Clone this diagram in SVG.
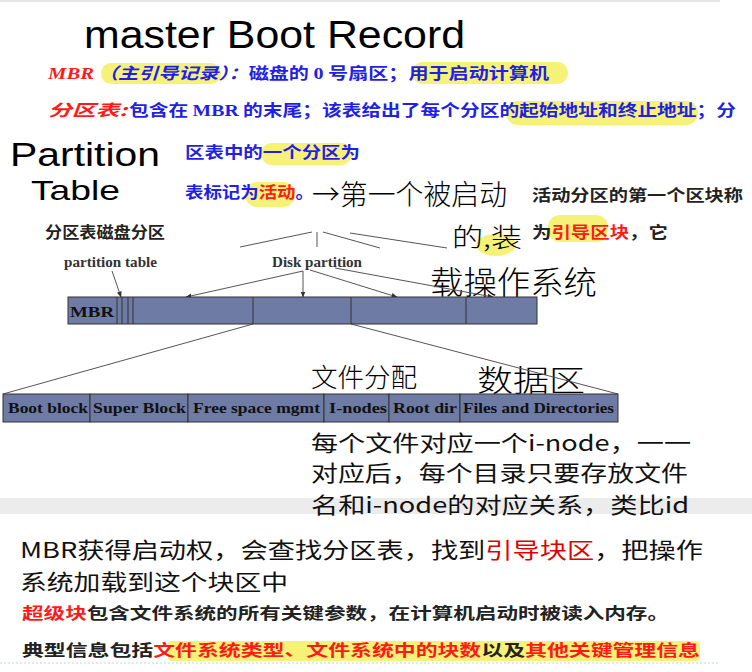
<svg xmlns="http://www.w3.org/2000/svg" width="752" height="672" viewBox="0 0 752 672">
<defs>
<style>
.cjkb{font-family:"Noto Sans CJK SC","Noto Sans",sans-serif;font-weight:bold;}
.cjk{font-family:"Noto Sans CJK SC","Noto Sans",sans-serif;font-weight:normal;}
.serif{font-family:"Liberation Serif",serif;font-weight:bold;}
.blue{fill:#1f1fe6;}
.red{fill:#ff1a1a;}
.dark{fill:#222;}
.hand{font-family:"Noto Sans CJK SC","Open Sans",sans-serif;font-weight:300;fill:#000;}
.handl{font-family:"Liberation Sans",sans-serif;font-weight:normal;fill:#000;}
.hl{fill:#f4f060;opacity:0.85;}
.cell{fill:#6e7ba4;stroke:#333;stroke-width:1;}
.lbl{font-family:"Liberation Serif",serif;font-weight:bold;font-size:15px;fill:#111;}
.con{stroke:#555;stroke-width:1;fill:none;}
.arr{stroke:#555;stroke-width:1;fill:none;marker-end:url(#ah);}
</style>
<marker id="ah" viewBox="0 0 10 10" refX="9" refY="5" markerWidth="6" markerHeight="6" orient="auto">
<path d="M0,1 L10,5 L0,9 z" fill="#333"/>
</marker>
</defs>
<rect width="752" height="672" fill="#fff"/>
<rect x="0" y="0" width="720" height="2" fill="#e6e6e6"/>
<rect x="0" y="498" width="752" height="16" fill="#ececec"/>

<g id="highlights">
<rect class="hl" x="101" y="63" width="120" height="21" rx="10"/>
<rect class="hl" x="412" y="62" width="156" height="22" rx="11"/>
<rect class="hl" x="506" y="101" width="192" height="24" rx="12"/>
<rect class="hl" x="261" y="143" width="91" height="22" rx="11"/>
<rect class="hl" x="245" y="182" width="50" height="25" rx="12"/>
<ellipse class="hl" cx="496" cy="245" rx="20" ry="11"/>
<rect class="hl" x="548" y="215" width="60" height="27" rx="12"/>
<rect class="hl" x="168" y="641" width="532" height="20" rx="4"/>
</g>

<g id="handwriting">
<text class="handl" x="84" y="48" font-size="38" textLength="381" lengthAdjust="spacingAndGlyphs">master Boot Record</text>
<text class="handl" x="10" y="166" font-size="34" textLength="150" lengthAdjust="spacingAndGlyphs">Partition</text>
<text class="handl" x="31" y="200" font-size="28" textLength="89" lengthAdjust="spacingAndGlyphs">Table</text>
<text class="hand" x="312" y="205" font-size="28" textLength="195" lengthAdjust="spacingAndGlyphs">→第一个被启动</text>
<text class="hand" x="452" y="247" font-size="26" textLength="70" lengthAdjust="spacingAndGlyphs">的,装</text>
<text class="hand" x="430" y="294" font-size="32" textLength="167" lengthAdjust="spacingAndGlyphs">载操作系统</text>
<text class="hand" x="311" y="387" font-size="26" textLength="106" lengthAdjust="spacingAndGlyphs">文件分配</text>
<text class="hand" x="477" y="391" font-size="30" textLength="108" lengthAdjust="spacingAndGlyphs">数据区</text>
</g>

<g id="intro-text">
<text class="serif red" x="48" y="79" font-size="17" font-style="italic" textLength="46" lengthAdjust="spacingAndGlyphs">MBR</text>
<text class="cjkb blue" x="98" y="79" font-size="16" textLength="451" lengthAdjust="spacingAndGlyphs"><tspan font-style="italic">（主引导记录）：</tspan>磁盘的 <tspan class="serif">0</tspan> 号扇区；用于启动计算机</text>
<text class="cjkb red" x="48" y="116" font-size="16" font-style="italic" textLength="79" lengthAdjust="spacingAndGlyphs">分区表:</text>
<text class="cjkb blue" x="129" y="116" font-size="16" textLength="607" lengthAdjust="spacingAndGlyphs">包含在 <tspan class="serif">MBR</tspan> 的末尾；该表给出了每个分区的起始地址和终止地址；分</text>
<text class="cjkb blue" x="185" y="158" font-size="16" textLength="175" lengthAdjust="spacingAndGlyphs">区表中的一个分区为</text>
<text class="cjkb blue" x="185" y="198" font-size="16" textLength="129" lengthAdjust="spacingAndGlyphs">表标记为<tspan class="red">活动</tspan>。</text>
<text class="cjkb dark" x="532" y="201" font-size="16" textLength="211" lengthAdjust="spacingAndGlyphs">活动分区的第一个区块称</text>
<text class="cjkb dark" x="532" y="238" font-size="16" textLength="136" lengthAdjust="spacingAndGlyphs">为<tspan class="red">引导区块</tspan>，它</text>
<text class="cjkb dark" x="45" y="238" font-size="16" textLength="120" lengthAdjust="spacingAndGlyphs">分区表磁盘分区</text>
</g>

<g id="connectors">
<line class="con" x1="312" y1="232" x2="240" y2="247"/>
<line class="con" x1="317" y1="232" x2="317" y2="247"/>
<line class="con" x1="323" y1="232" x2="380" y2="248"/>
<line class="con" x1="350" y1="233" x2="447" y2="248"/>
<line class="arr" x1="112" y1="271" x2="121" y2="297"/>
<line class="arr" x1="303" y1="271" x2="186" y2="297"/>
<line class="arr" x1="303" y1="271" x2="303" y2="297"/>
<line class="arr" x1="310" y1="270" x2="397" y2="297"/>
<line class="arr" x1="335" y1="268" x2="493" y2="297"/>
<line class="con" x1="253" y1="324" x2="3" y2="394"/>
<line class="con" x1="351" y1="324" x2="618" y2="394"/>
</g>

<g id="partition-labels">
<text class="serif" x="64" y="267" font-size="14" fill="#333" textLength="93" lengthAdjust="spacingAndGlyphs">partition table</text>
<text class="serif" x="272" y="267" font-size="14" fill="#333" textLength="90" lengthAdjust="spacingAndGlyphs">Disk partition</text>
</g>

<g id="disk-layout">
<rect class="cell" x="68" y="297" width="469" height="27"/>
<line x1="117" y1="297" x2="117" y2="324" stroke="#333"/>
<line x1="122" y1="297" x2="122" y2="324" stroke="#333"/>
<line x1="128" y1="297" x2="128" y2="324" stroke="#333"/>
<line x1="133" y1="297" x2="133" y2="324" stroke="#333"/>
<line x1="253" y1="297" x2="253" y2="324" stroke="#333"/>
<line x1="351" y1="297" x2="351" y2="324" stroke="#333"/>
<line x1="466" y1="297" x2="466" y2="324" stroke="#333"/>
<text class="lbl" x="70" y="317" font-size="16" textLength="44" lengthAdjust="spacingAndGlyphs">MBR</text>
</g>

<g id="fs-layout">
<rect class="cell" x="3" y="394" width="87" height="28"/>
<rect class="cell" x="90" y="394" width="98" height="28"/>
<rect class="cell" x="188" y="394" width="136" height="28"/>
<rect class="cell" x="324" y="394" width="65" height="28"/>
<rect class="cell" x="389" y="394" width="71" height="28"/>
<rect class="cell" x="460" y="394" width="158" height="28"/>
<text class="lbl" x="8" y="413" textLength="80" lengthAdjust="spacingAndGlyphs">Boot block</text>
<text class="lbl" x="93" y="413" textLength="93" lengthAdjust="spacingAndGlyphs">Super Block</text>
<text class="lbl" x="193" y="413" textLength="127" lengthAdjust="spacingAndGlyphs">Free space mgmt</text>
<text class="lbl" x="329" y="413" textLength="58" lengthAdjust="spacingAndGlyphs">I-nodes</text>
<text class="lbl" x="393" y="413" textLength="64" lengthAdjust="spacingAndGlyphs">Root dir</text>
<text class="lbl" x="463" y="413" textLength="151" lengthAdjust="spacingAndGlyphs">Files and Directories</text>
</g>

<g id="inode-note">
<text class="cjk" x="311" y="451" font-size="22" fill="#111" textLength="380" lengthAdjust="spacingAndGlyphs">每个文件对应一个i-node，一一</text>
<text class="cjk" x="311" y="481" font-size="22" fill="#111" textLength="377" lengthAdjust="spacingAndGlyphs">对应后，每个目录只要存放文件</text>
<text class="cjk" x="311" y="513" font-size="22" fill="#111" textLength="378" lengthAdjust="spacingAndGlyphs">名和i-node的对应关系，类比id</text>
</g>

<g id="bottom-notes">
<text class="cjk" x="20" y="558" font-size="22" fill="#111" textLength="683" lengthAdjust="spacingAndGlyphs">MBR获得启动权，会查找分区表，找到<tspan fill="#e00000">引导块区</tspan>，把操作</text>
<text class="cjk" x="20" y="590" font-size="22" fill="#111" textLength="268" lengthAdjust="spacingAndGlyphs">系统加载到这个块区中</text>
<text class="cjkb dark" x="22" y="619" font-size="16" textLength="647" lengthAdjust="spacingAndGlyphs"><tspan class="red">超级块</tspan>包含文件系统的所有关键参数，在计算机启动时被读入内存。</text>
<text class="cjkb dark" x="22" y="656" font-size="16" textLength="678" lengthAdjust="spacingAndGlyphs">典型信息包括<tspan class="red">文件系统类型、文件系统中的块数</tspan>以及<tspan class="red">其他关键管理信息</tspan></text>
<line x1="0" y1="663" x2="720" y2="663" stroke="#c8d0e0" stroke-width="1" stroke-dasharray="2,2"/>
</g>
</svg>
